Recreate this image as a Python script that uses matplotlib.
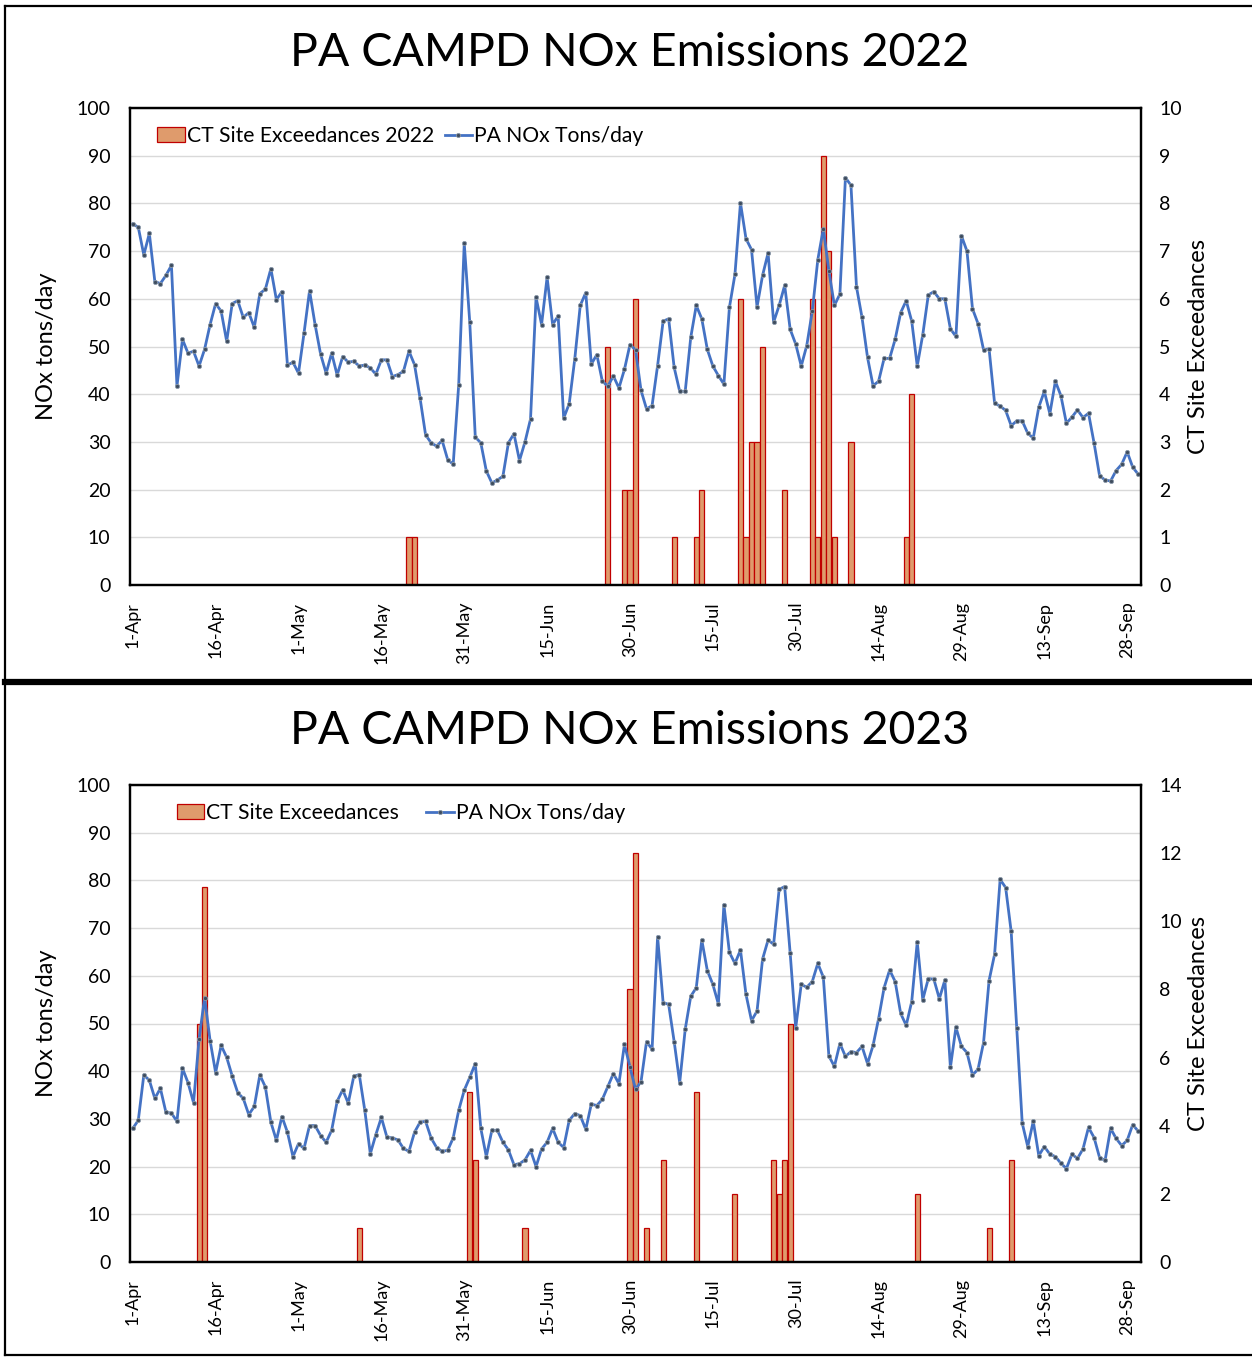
import numpy as np
import matplotlib
matplotlib.use('Agg')
import matplotlib.pyplot as plt
from matplotlib.lines import Line2D

plt.rcParams['font.family'] = ['Lato', 'DejaVu Sans']

# day labels, 1-Apr .. 30-Sep (183 days), tick every 15 days
tick_idx = list(range(0, 183, 15))
tick_labels = ['1-Apr', '16-Apr', '1-May', '16-May', '31-May', '15-Jun', '30-Jun',
               '15-Jul', '30-Jul', '14-Aug', '29-Aug', '13-Sep', '28-Sep']

nox_2022 = [75.7, 75.0, 69.2, 73.7, 63.6, 63.2, 64.9, 67.0, 41.7, 51.5,
            48.6, 49.0, 45.9, 49.4, 54.6, 59.0, 57.4, 51.1, 59.0, 59.6,
            56.1, 57.1, 54.0, 61.1, 62.0, 66.3, 59.8, 61.5, 46.1, 46.7,
            44.4, 52.8, 61.7, 54.6, 48.4, 44.4, 48.6, 44.0, 47.9, 46.7,
            46.9, 45.9, 46.1, 45.5, 44.2, 47.2, 47.2, 43.7, 44.1, 44.8,
            49.0, 46.2, 39.2, 31.5, 29.8, 29.1, 30.3, 26.3, 25.3, 42.0,
            71.6, 55.1, 31.0, 29.8, 23.9, 21.4, 22.0, 22.8, 29.8, 31.7,
            26.1, 30.0, 34.8, 60.3, 54.6, 64.5, 54.6, 56.4, 35.0, 38.0,
            47.3, 58.6, 61.3, 46.3, 48.3, 42.7, 41.7, 43.8, 41.3, 45.2,
            50.4, 49.3, 40.8, 36.9, 37.6, 46.0, 55.3, 55.8, 45.6, 40.6,
            40.6, 51.9, 58.6, 55.8, 49.4, 45.9, 43.9, 42.1, 58.2, 65.1,
            80.1, 72.6, 70.3, 58.3, 64.9, 69.6, 55.1, 58.6, 62.8, 53.6,
            50.5, 45.9, 50.2, 57.4, 68.2, 74.7, 65.9, 58.6, 61.0, 85.4,
            83.8, 62.5, 56.1, 47.7, 41.8, 42.7, 47.5, 47.5, 51.5, 57.1,
            59.6, 55.3, 45.9, 52.5, 60.8, 61.5, 60.0, 60.0, 53.7, 52.1,
            73.2, 70.0, 57.9, 54.8, 49.3, 49.5, 38.1, 37.5, 36.6, 33.4,
            34.4, 34.4, 31.8, 30.8, 37.3, 40.6, 35.9, 42.7, 39.7, 33.9,
            35.2, 36.7, 35.1, 36.0, 29.8, 22.9, 22.0, 21.8, 24.0, 25.3,
            27.9, 24.7, 23.2]

nox_2023 = [28.0, 29.7, 39.2, 38.1, 34.3, 36.4, 31.4, 31.2, 29.5, 40.6,
            37.6, 33.4, 46.7, 55.4, 46.4, 39.7, 45.4, 42.9, 39.0, 35.5,
            34.3, 30.9, 32.6, 39.2, 36.7, 29.3, 25.5, 30.5, 27.2, 22.1,
            24.8, 23.8, 28.6, 28.6, 26.5, 25.1, 27.6, 33.7, 36.1, 33.3,
            38.9, 39.3, 31.8, 22.7, 26.7, 30.3, 26.2, 26.0, 25.6, 23.8,
            23.2, 27.2, 29.3, 29.5, 26.0, 24.0, 23.2, 23.4, 26.0, 31.8,
            36.0, 38.7, 41.6, 28.0, 22.1, 27.6, 27.6, 25.1, 23.5, 20.4,
            20.6, 21.4, 23.4, 20.0, 23.7, 25.1, 28.0, 25.1, 24.0, 29.7,
            31.1, 30.7, 27.8, 33.1, 32.8, 34.1, 36.8, 39.5, 37.4, 45.6,
            40.9, 36.2, 37.8, 46.2, 44.6, 68.2, 54.4, 54.0, 46.2, 37.6,
            48.8, 55.7, 57.5, 67.5, 61.1, 58.2, 54.1, 74.9, 64.9, 62.6,
            65.4, 56.1, 50.6, 52.6, 63.5, 67.5, 66.6, 78.1, 78.7, 64.7,
            49.1, 58.2, 57.6, 58.8, 62.6, 59.7, 43.2, 41.0, 45.8, 43.1,
            44.1, 43.9, 45.2, 41.6, 45.4, 51.0, 57.5, 61.2, 58.8, 52.1,
            49.6, 54.6, 67.1, 55.0, 59.4, 59.3, 55.2, 59.1, 40.8, 49.2,
            45.2, 43.9, 39.2, 40.4, 46.0, 59.0, 64.5, 80.2, 78.5, 69.3,
            49.0, 29.1, 24.2, 29.5, 22.3, 24.2, 22.6, 22.1, 20.7, 19.6,
            22.6, 21.7, 23.7, 28.2, 26.1, 21.9, 21.3, 28.0, 25.9, 24.4,
            25.5, 28.8, 27.4]

# exceedance days (index from 1-Apr) and counts
exc_days_2022 = [50, 51, 86, 89, 90, 91, 98, 102, 103, 110, 111, 112,
                 113, 114, 118, 123, 124, 125, 126, 127, 130, 140, 141]
exc_counts_2022 = [1, 1, 5, 2, 2, 6, 1, 1, 2, 6, 1, 3,
                   3, 5, 2, 6, 1, 9, 7, 1, 3, 1, 4]

exc_days_2023 = [12, 13, 41, 61, 62, 71, 90, 91, 93, 96, 102, 109,
                 116, 117, 118, 119, 142, 155, 159]
exc_counts_2023 = [7, 11, 1, 5, 3, 1, 8, 12, 1, 3, 5, 2,
                   3, 2, 3, 7, 2, 1, 3]

W, H = 1252, 1357
fig = plt.figure(figsize=(W / 100, H / 100), dpi=100)

bar_face = '#DF9B6C'
bar_edge = '#C00000'
line_col = '#4472C4'


def panel(top_px, title, title_y, nox, days, counts, rmax, rstep, leg_x, leg_name, colsp):
    left, right, height = 130, 1141, 477
    ax = fig.add_axes([left / W, 1 - (top_px + height) / H, (right - left) / W, height / H])
    ax2 = ax.twinx()
    x = np.arange(len(nox))

    # gridlines follow the left axis
    for v in range(10, 101, 10):
        ax2.axhline(v * rmax / 100, color='#D9D9D9', lw=1, zorder=0)
    b = ax2.bar(days, counts, width=0.92, color=bar_face, edgecolor=bar_edge,
                linewidth=0.9, zorder=2, label=leg_name)
    ln, = ax.plot(x, nox, color=line_col, lw=2, marker='o', markersize=3,
                  markerfacecolor='#3E4C5E', markeredgecolor='#8C9AAA',
                  markeredgewidth=0.6, label='PA NOx Tons/day')
    ax.set_zorder(ax2.get_zorder() + 1)
    ax.patch.set_visible(False)

    ax.set_xlim(-0.5, len(nox) - 0.5)
    ax.set_ylim(0, 100)
    ax.set_yticks(range(0, 101, 10))
    ax2.set_ylim(0, rmax)
    ax2.set_yticks(range(0, rmax + 1, rstep))
    ax.set_xticks(tick_idx)
    ax.set_xticklabels(tick_labels, rotation=90, fontsize=13)
    ax.tick_params(axis='x', length=0, pad=12)
    ax.tick_params(axis='y', length=0, pad=14, labelsize=14)
    ax2.tick_params(axis='y', length=0, pad=13, labelsize=14)
    for a in (ax, ax2):
        for s in a.spines.values():
            s.set_color('black')
            s.set_linewidth(1.6)

    ax.set_ylabel('NOx tons/day', fontsize=17)
    ax.yaxis.set_label_coords(-0.072, 0.5)
    ax2.set_ylabel('CT Site Exceedances', fontsize=17)
    ax2.yaxis.set_label_coords(1.046, 0.5)

    ax.legend([b, ln], [leg_name, 'PA NOx Tons/day'], loc='upper left',
              bbox_to_anchor=(leg_x, 0.962), ncol=2, frameon=False, fontsize=15.2,
              handlelength=1.3, handleheight=0.75, handletextpad=0.1,
              columnspacing=colsp, borderpad=0, borderaxespad=0)

    fig.text(630 / W, 1 - title_y / H, title, ha='center', va='center', fontsize=33.5)


panel(108, 'PA CAMPD NOx Emissions 2022', 53, nox_2022, exc_days_2022,
      exc_counts_2022, 10, 1, 0.027, 'CT Site Exceedances 2022', 0.5)
panel(785, 'PA CAMPD NOx Emissions 2023', 731, nox_2023, exc_days_2023,
      exc_counts_2023, 14, 2, 0.046, 'CT Site Exceedances', 1.3)

# frame around both charts and separator
def hline(y, x0, x1, lw):
    fig.add_artist(Line2D([x0 / W, x1 / W], [1 - y / H, 1 - y / H], color='black', lw=lw))

def vline(x, y0, y1, lw):
    fig.add_artist(Line2D([x / W, x / W], [1 - y0 / H, 1 - y1 / H], color='black', lw=lw))

hline(6, 5, 1252, 1.6)
hline(682, 5, 1252, 4.5)
hline(1355, 5, 1252, 1.6)
vline(5, 6, 1355, 1.6)

fig.savefig('out.png', dpi=100)
